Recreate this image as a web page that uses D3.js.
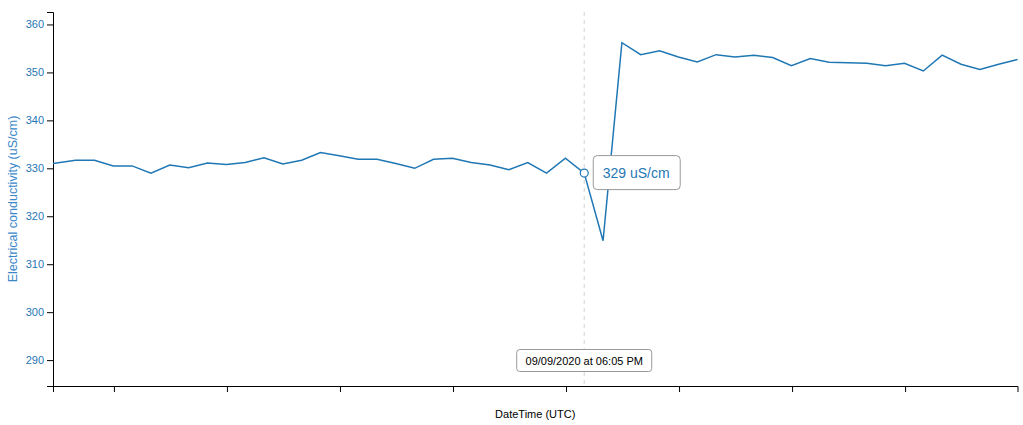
<!DOCTYPE html>
<html>
<head>
<meta charset="utf-8">
<script src="https://cdnjs.cloudflare.com/ajax/libs/d3/7.8.5/d3.min.js"></script>
<style>
    body { margin: 0; background: #fff; }
    svg { font-family: "Liberation Sans", Arial, sans-serif; display: block; }
</style>
</head>
<body>
<svg width="1023" height="425"></svg>
<script>
// sensor readings, 09/09/2020 (UTC)
var times = [
    '15:43:50', '15:49:50', '15:54:50', '15:59:50', '16:04:50', '16:09:50', '16:14:50', '16:19:50',
    '16:24:50', '16:29:50', '16:34:50', '16:39:50', '16:44:50', '16:49:50', '16:54:50', '16:59:50',
    '17:04:50', '17:09:50', '17:14:50', '17:19:50', '17:24:50', '17:29:50', '17:34:50', '17:39:50',
    '17:44:50', '17:49:50', '17:54:50', '17:59:50', '18:04:50', '18:09:50', '18:14:50', '18:19:50',
    '18:24:50', '18:29:50', '18:34:50', '18:39:50', '18:44:50', '18:49:50', '18:54:50', '18:59:50',
    '19:04:50', '19:09:50', '19:14:50', '19:19:50', '19:24:50', '19:29:50', '19:34:50', '19:39:50',
    '19:44:50', '19:49:50', '19:54:50', '19:59:50'
];
var conductivity = [
    331.0, 331.7, 331.7, 330.5, 330.5, 329.0, 330.7, 330.1,
    331.1, 330.8, 331.2, 332.2, 330.9, 331.7, 333.3, 332.6,
    331.9, 331.9, 331.0, 330.0, 331.9, 332.1, 331.2, 330.7,
    329.7, 331.2, 329.0, 332.1, 329.0, 314.9, 356.2, 353.7,
    354.5, 353.2, 352.2, 353.7, 353.2, 353.6, 353.1, 351.4,
    352.9, 352.1, 352.0, 351.9, 351.4, 351.9, 350.3, 353.6,
    351.7, 350.6, 351.7, 352.7
];
var day = '2020-09-09';
var yTicks = [290, 300, 310, 320, 330, 340, 350, 360];
var yDomain = [284.6, 362.6];
var hoverIndex = 28;

var parseTime = d3.utcParse('%Y-%m-%d %H:%M:%S');
var data = times.map(function (t, i) {
    return { date: parseTime(day + ' ' + t), value: conductivity[i] };
});

var svg = d3.select('svg');
var margin = { top: 12, right: 5.5, bottom: 39, left: 53 };
var width = svg.attr('width') - margin.left - margin.right;
var height = svg.attr('height') - margin.top - margin.bottom;
var blue = '#1f77b4';

var g = svg.append('g')
    .attr('transform', 'translate(' + margin.left + ',' + margin.top + ')');

var xScale = d3.scaleUtc()
    .range([0, width])
    .domain(d3.extent(data, function (d) { return d.date; }));

var yScale = d3.scaleLinear()
    .range([height, 0])
    .domain(yDomain);

var xAxis = g.append('g')
    .attr('transform', 'translate(0,' + height + ')')
    .call(d3.axisBottom(xScale).ticks(d3.utcMinute.every(30)).tickFormat(''));

var yAxis = g.append('g')
    .call(d3.axisLeft(yScale).tickValues(yTicks));

yAxis.selectAll('text')
    .attr('fill', blue)
    .style('font-size', '11px');

// hover guide
var hover = data[hoverIndex];
var hx = xScale(hover.date);
var hy = yScale(hover.value);

g.append('line')
    .attr('x1', hx).attr('x2', hx)
    .attr('y1', 0).attr('y2', height)
    .attr('stroke', '#d3d3d3')
    .attr('stroke-dasharray', '4,4');

g.append('path')
    .datum(data)
    .attr('d', d3.line()
        .x(function (d) { return xScale(d.date); })
        .y(function (d) { return yScale(d.value); }))
    .attr('fill', 'none')
    .attr('stroke', blue)
    .attr('stroke-width', 1.5);

g.append('circle')
    .attr('cx', hx)
    .attr('cy', hy)
    .attr('r', 4)
    .attr('fill', '#fff')
    .attr('stroke', blue)
    .attr('stroke-width', 1.2);

var tip = g.append('g')
    .attr('transform', 'translate(' + (hx + 9) + ',' + (hy - 17.5) + ')');

tip.append('rect')
    .attr('width', 87)
    .attr('height', 34)
    .attr('rx', 4)
    .attr('fill', '#fff')
    .attr('stroke', '#999');

tip.append('text')
    .attr('x', 9.5)
    .attr('y', 22.5)
    .attr('fill', blue)
    .style('font-size', '14px')
    .text(d3.format('.0f')(hover.value) + ' uS/cm');

var dateTip = g.append('g')
    .attr('transform', 'translate(' + hx + ',' + (height - 36.5) + ')');

dateTip.append('rect')
    .attr('x', -67.5)
    .attr('width', 135)
    .attr('height', 22)
    .attr('rx', 3)
    .attr('fill', '#fff')
    .attr('stroke', '#999');

dateTip.append('text')
    .attr('x', 0)
    .attr('y', 15)
    .attr('text-anchor', 'middle')
    .attr('fill', '#000')
    .style('font-size', '11px')
    .text(d3.utcFormat('%m/%d/%Y at %I:%M %p')(d3.utcMinute.round(hover.date)));

// axis titles
svg.append('text')
    .attr('transform', 'translate(17,' + (margin.top + height / 2) + ') rotate(-90)')
    .attr('text-anchor', 'middle')
    .attr('fill', '#3a87c8')
    .style('font-size', '12.5px')
    .text('Electrical conductivity (uS/cm)');

svg.append('text')
    .attr('x', margin.left + width / 2)
    .attr('y', 418)
    .attr('text-anchor', 'middle')
    .attr('fill', '#000')
    .style('font-size', '11px')
    .text('DateTime (UTC)');
</script>
</body>
</html>
